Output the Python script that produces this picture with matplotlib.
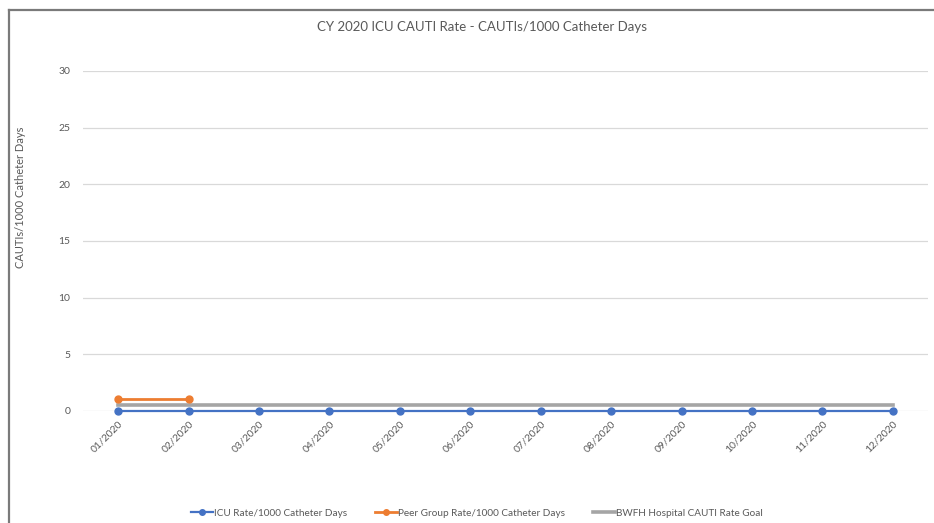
import numpy as np
import matplotlib.pyplot as plt
from matplotlib.lines import Line2D

plt.rcParams['font.family'] = ['Lato', 'DejaVu Sans']

months = ['01/2020', '02/2020', '03/2020', '04/2020', '05/2020', '06/2020',
          '07/2020', '08/2020', '09/2020', '10/2020', '11/2020', '12/2020']
icu_rate = [0, 0, 0, 0, 0, 0, 0, 0, 0, 0, 0, 0]
peer_rate = [1.1, 1.1, None, None, None, None, None, None, None, None, None, None]
goal_rate = [0.57] * 12
yticks = [0, 5, 10, 15, 20, 25, 30]

TXT = '#595959'
W, H = 934, 523

fig = plt.figure(figsize=(W / 100, H / 100), dpi=100)
ax = fig.add_axes([83 / W, 1 - 411 / H, (928 - 83) / W, (411 - 71) / H])

x = np.arange(len(months))
peer = np.array([np.nan if v is None else v for v in peer_rate], dtype=float)

ax.plot(x, icu_rate, color='#4472C4', lw=1.6, marker='o', ms=5,
        label='ICU Rate/1000 Catheter Days', clip_on=False, zorder=4)
ax.plot(x, peer, color='#ED7D31', lw=2.0, marker='o', ms=5,
        label='Peer Group Rate/1000 Catheter Days', clip_on=False, zorder=4)
ax.plot(x, goal_rate, color='#A5A5A5', lw=2.6,
        label='BWFH Hospital CAUTI Rate Goal', clip_on=False, zorder=3)

ax.set_xlim(-0.5, len(months) - 0.5)
ax.set_ylim(0, 30)
ax.set_yticks(yticks)
ax.yaxis.grid(True, color='#D9D9D9', lw=0.9)
ax.set_axisbelow(True)
for s in ax.spines.values():
    s.set_visible(False)
ax.tick_params(axis='both', length=0, colors=TXT, labelsize=7.5)
ax.tick_params(axis='y', pad=9)
ax.set_xticks(x)
ax.set_xticklabels(months, rotation=45, ha='right', rotation_mode='anchor')
ax.tick_params(axis='x', pad=6)

fig.text(482 / W, 1 - 27 / H, 'CY 2020 ICU CAUTI Rate - CAUTIs/1000 Catheter Days',
         ha='center', va='center', fontsize=9.5, color=TXT)
fig.text(21 / W, 1 - 197 / H, 'CAUTIs/1000 Catheter Days', rotation=90,
         ha='center', va='center', fontsize=8, color=TXT)

leg = fig.legend(loc='center', bbox_to_anchor=(477 / W, 1 - 513 / H), ncol=3,
                 frameon=False, fontsize=7.2, handlelength=2.2, markerscale=0.8,
                 handletextpad=0.1, columnspacing=2.8, labelcolor=TXT)

# outer chart border
fig.add_artist(Line2D([9 / W, 1], [1 - 10 / H, 1 - 10 / H], color='#7a7a7a', lw=1.6))
fig.add_artist(Line2D([9 / W, 9 / W], [0, 1 - 10 / H], color='#7a7a7a', lw=1.6))

fig.savefig('out.png', dpi=100)
